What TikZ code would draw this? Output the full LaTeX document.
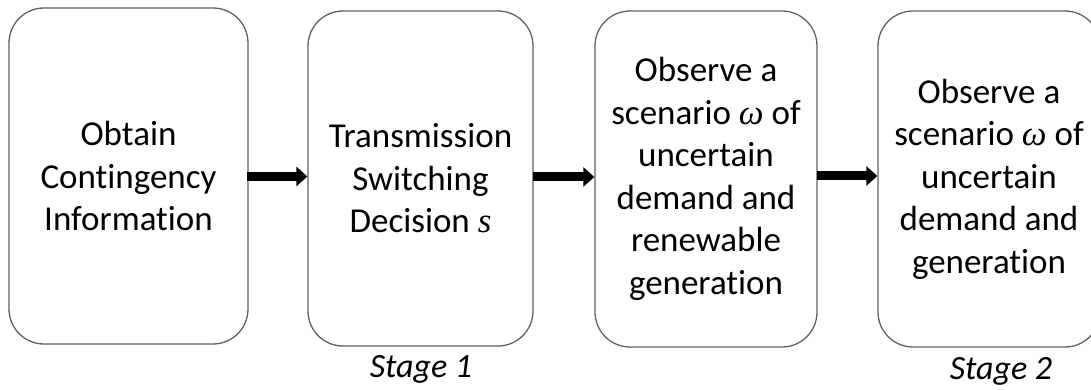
\documentclass[tikz,border=0pt]{standalone}
\usepackage{fontspec}
\setmainfont{Carlito}[Ligatures=NoCommon]
\newfontfamily\varfont{Liberation Serif}
\newcommand{\varsym}[1]{{\varfont\itshape #1}}
\usetikzlibrary{arrows.meta}
\begin{document}
\begin{tikzpicture}[x=1pt,y=-1pt,
  stagebox/.style={draw=black!62, line width=1.3pt, rounded corners=35pt,
    fill=white, align=center, font=\fontsize{35}{42.5}\selectfont,
    inner sep=0pt},
  flow/.style={line width=9pt, -{Triangle[length=11pt,width=19pt]}},
  stagelabel/.style={font=\fontsize{34}{40}\selectfont\itshape, anchor=base}]
  \useasboundingbox (0,0) rectangle (1091,390);
  \clip (0,0) rectangle (1091,390);

  \node[stagebox, minimum width=239pt, minimum height=336pt] (b1) at (128.5,176)
    {Obtain\\Contingency\\Information};
  \node[stagebox, minimum width=225pt, minimum height=335pt] (b2) at (420.5,178.5)
    {Transmission\\Switching\\Decision \varsym{s}};
  \node[stagebox, minimum width=222pt, minimum height=336pt] (b3) at (706,179)
    {Observe a\\scenario \varsym{ω} of\\uncertain\\demand and\\renewable\\generation};
  \node[stagebox, minimum width=222pt, minimum height=336pt] (b4) at (989,179)
    {Observe a\\scenario \varsym{ω} of\\uncertain\\demand and\\generation};

  \coordinate (a1) at (247,176.5);
  \coordinate (a2) at (533,177);
  \coordinate (a3) at (817,176);
  \draw[flow] (a1) -- (a1 -| b2.west);
  \draw[flow] (a2) -- (a2 -| b3.west);
  \draw[flow] (a3) -- (a3 -| b4.west);

  \node[stagelabel] (s1) at (421,377) {Stage 1};
  \node[stagelabel] (s2) at (1001,379) {Stage 2};
\end{tikzpicture}
\end{document}
